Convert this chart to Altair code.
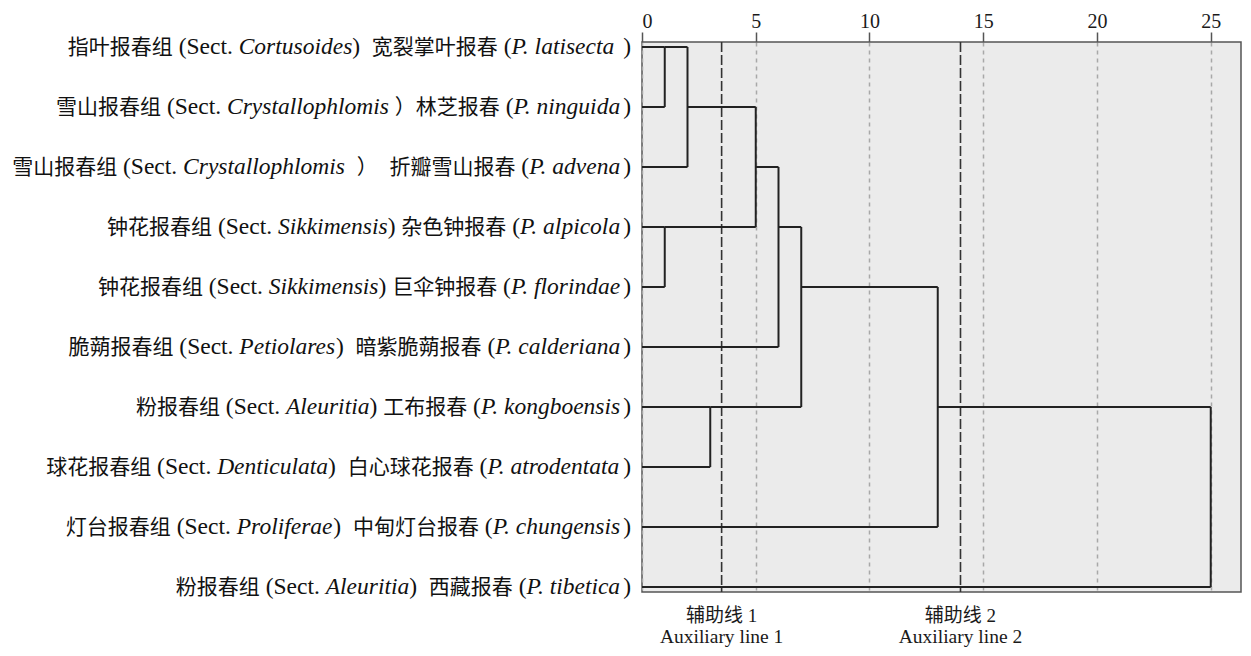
import altair as alt
import pandas as pd

# ---------------- data ----------------
labels = [
    "指叶报春组 (Sect. *Cortusoides*)  宽裂掌叶报春 (*P. latisecta* )",
    "雪山报春组 (Sect. *Crystallophlomis* ）林芝报春 (*P. ninguida*)",
    "雪山报春组 (Sect. *Crystallophlomis*  ）  折瓣雪山报春 (*P. advena*)",
    "钟花报春组 (Sect. *Sikkimensis*) 杂色钟报春 (*P. alpicola*)",
    "钟花报春组 (Sect. *Sikkimensis*) 巨伞钟报春 (*P. florindae*)",
    "脆蒴报春组 (Sect. *Petiolares*)  暗紫脆蒴报春 (*P. calderiana*)",
    "粉报春组 (Sect. *Aleuritia*) 工布报春 (*P. kongboensis*)",
    "球花报春组 (Sect. *Denticulata*)  白心球花报春 (*P. atrodentata*)",
    "灯台报春组 (Sect. *Proliferae*)  中甸灯台报春 (*P. chungensis*)",
    "粉报春组 (Sect. *Aleuritia*)  西藏报春 (*P. tibetica*)",
]

# agglomeration steps: node ids 0-9 are leaves, merge k creates node 10+k
merge_a = [0, 10, 3, 11, 13, 6, 14, 16, 17]
merge_b = [1, 2, 4, 12, 5, 7, 15, 8, 9]
merge_h = [1, 2, 1, 5, 6, 3, 7, 13, 25]

tick_values = [0, 5, 10, 15, 20, 25]
x_max = 26.33

aux_values = [3.5, 14]
aux_cn = ["辅助线 1", "辅助线 2"]
aux_en = ["Auxiliary line 1", "Auxiliary line 2"]

# ---------------- dendrogram segments (SPSS style) ----------------
n = len(labels)
pos = {i: i for i in range(n)}
hgt = {i: 0.0 for i in range(n)}
segs = []
for k, (a, b, h) in enumerate(zip(merge_a, merge_b, merge_h)):
    node = n + k
    for c in (a, b):
        segs.append(dict(x=hgt[c], x2=h, y=pos[c], y2=pos[c]))
    segs.append(dict(x=h, x2=h, y=pos[a], y2=pos[b]))
    pos[node] = (pos[a] + pos[b]) // 2
    hgt[node] = h
seg_df = pd.DataFrame(segs)

# ---------------- label layout (mixed roman / italic / CJK) ----------------
LAT_SIZE = 23.5
CJK_SIZE = 21
REG = {" ": 250, "(": 333, ")": 333, ".": 250, "S": 556, "e": 444, "c": 444, "t": 278}
ITA = {" ": 250, ".": 250, "A": 611, "C": 667, "D": 722, "P": 611, "S": 500,
       "a": 500, "b": 500, "c": 444, "d": 500, "e": 444, "f": 278, "g": 500,
       "h": 500, "i": 278, "j": 278, "k": 444, "l": 278, "m": 722, "n": 500,
       "o": 500, "p": 500, "q": 500, "r": 389, "s": 389, "t": 278, "u": 500,
       "v": 444, "w": 667, "x": 444, "y": 444, "z": 389}


def is_cjk(ch):
    return ord(ch) > 0x2E80


def run_width(text, kind):
    if kind == "cjk":
        return len(text) * CJK_SIZE
    table = ITA if kind == "it" else REG
    return sum(table.get(ch, 500) for ch in text) * LAT_SIZE / 1000.0


SPACE = REG[" "] * LAT_SIZE / 1000.0
LABEL_RIGHT = -11

pieces = []
for row, lab in enumerate(labels):
    runs = []
    for j, part in enumerate(lab.split("*")):
        if j % 2 == 1:
            runs.append([part, "it", True])
            continue
        for ch in part:
            kind = "cjk" if is_cjk(ch) else "reg"
            if runs and runs[-1][1] == kind and not runs[-1][2]:
                runs[-1][0] += ch
            else:
                runs.append([ch, kind, False])
    items = []
    cursor = 0.0
    for text, kind, _ in runs:
        stripped = text.strip(" ")
        if not stripped:
            cursor += len(text) * SPACE
            continue
        lead = len(text) - len(text.lstrip(" "))
        trail = len(text) - len(text.rstrip(" "))
        cursor += lead * SPACE
        items.append((stripped, kind, cursor))
        cursor += run_width(stripped, kind)
        cursor += trail * SPACE
    total = cursor
    for text, kind, off in items:
        pieces.append(dict(row=row, text=text, kind=kind, xpx=LABEL_RIGHT - total + off))
piece_df = pd.DataFrame(pieces)

aux_df = pd.DataFrame({"v": aux_values, "cn": aux_cn, "en": aux_en})

# ---------------- chart ----------------
W, H = 599, 550
pad = 5 / 60.0
xscale = alt.Scale(domain=[0, x_max], nice=False, zero=False)
yscale = alt.Scale(domain=[-pad, n - 1 + pad], nice=False, zero=False, reverse=True)

LINE = "#222222"
SERIF = "Liberation Serif"
CJK = "Noto Sans CJK SC"

tree = alt.Chart(seg_df).mark_rule(color=LINE, strokeWidth=2).encode(
    x=alt.X("x:Q", scale=xscale,
            axis=alt.Axis(orient="top", values=tick_values, grid=True,
                          gridDash=[4, 4], gridColor="#a8a8a8", gridWidth=1.5,
                          domain=False, ticks=True, tickSize=10, tickColor="#555555",
                          tickWidth=1.5, labelFont=SERIF, labelFontSize=20,
                          labelColor="#1a1a1a", labelPadding=1, title=None)),
    x2="x2:Q",
    y=alt.Y("y:Q", scale=yscale, axis=None),
    y2="y2:Q",
)

aux_lines = alt.Chart(aux_df).mark_rule(color="#333333", strokeWidth=1.6,
                                         strokeDash=[10, 3]).encode(
    x=alt.X("v:Q", scale=xscale),
    y=alt.value(0),
    y2=alt.value(H),
)

aux_cn_text = alt.Chart(aux_df).mark_text(font=SERIF + ", " + CJK, fontSize=19,
                                          color="#1a1a1a", baseline="middle",
                                          align="center").encode(
    x=alt.X("v:Q", scale=xscale), y=alt.value(574), text="cn:N")

aux_en_text = alt.Chart(aux_df).mark_text(font=SERIF, fontSize=19.5, color="#1a1a1a",
                                          baseline="middle", align="center").encode(
    x=alt.X("v:Q", scale=xscale), y=alt.value(595), text="en:N")


def label_layer(kind, font, size, style):
    return alt.Chart(piece_df).transform_filter(
        alt.datum.kind == kind
    ).mark_text(font=font, fontSize=size, fontStyle=style, color="#111111",
                align="left", baseline="alphabetic", dy=7).encode(
        x=alt.X("xpx:Q", scale=None),
        y=alt.Y("row:Q", scale=yscale),
        text="text:N",
    )


lab_reg = label_layer("reg", SERIF, LAT_SIZE, "normal")
lab_it = label_layer("it", SERIF, LAT_SIZE, "italic")
lab_cjk = label_layer("cjk", CJK, CJK_SIZE, "normal")

chart = alt.layer(
    aux_lines, tree, aux_cn_text, aux_en_text, lab_reg, lab_it, lab_cjk
).properties(
    width=W, height=H,
    padding={"left": 634, "top": 34, "right": 2, "bottom": 56},
    autosize=alt.AutoSizeParams(type="none"),
    background="white",
).configure_view(
    fill="#ebebeb", stroke="#555555", strokeWidth=1.5
)

chart.save("out.html", embed_options={"renderer": "svg", "actions": False})
